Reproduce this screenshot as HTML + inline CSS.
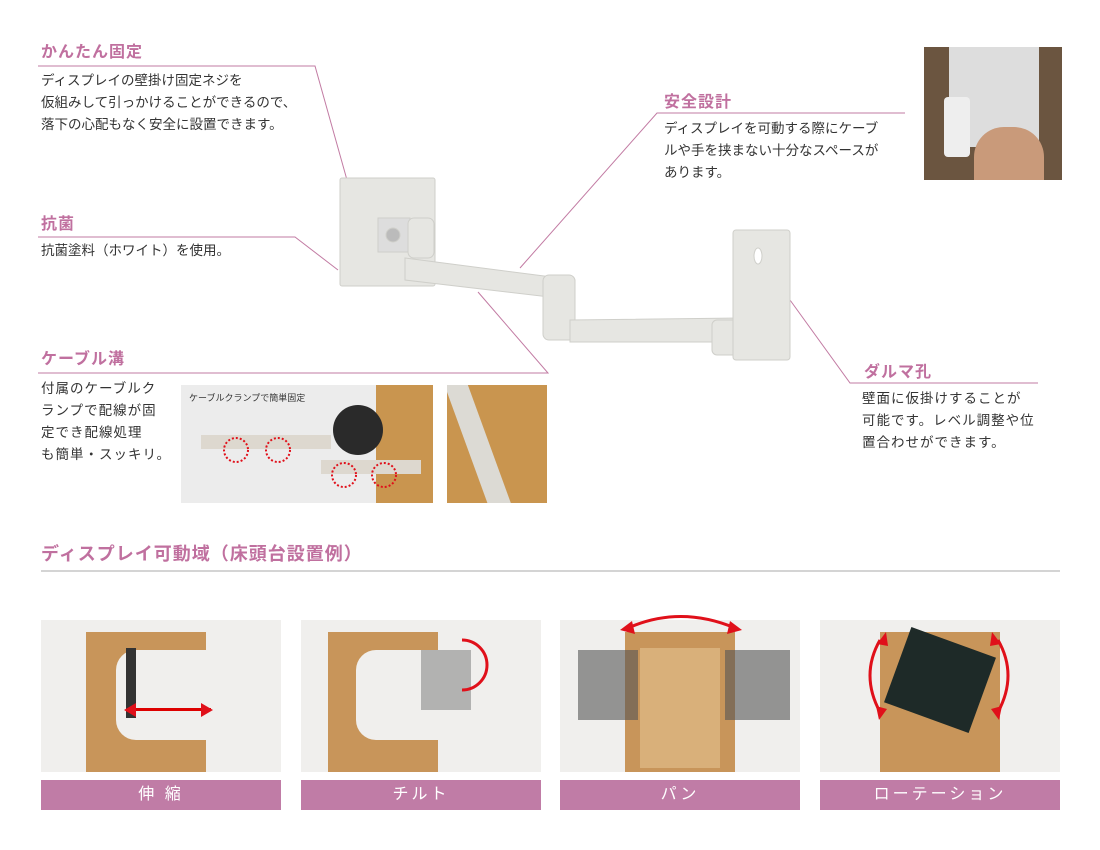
<!DOCTYPE html><html><head><meta charset="utf-8"><style>
body{margin:0;width:1100px;height:850px;background:#fff;position:relative;overflow:hidden;font-family:"Liberation Sans","Noto Sans CJK JP",sans-serif;color:#333}
.a{position:absolute}
.h{color:#c0709f;font-size:16px;font-weight:bold;letter-spacing:1px}
.t{font-size:13.5px;line-height:22px;color:#333}
.lab{position:absolute;top:780px;width:240px;height:30px;background:#c07ca6;color:#fff;font-size:16px;text-align:center;line-height:30px;letter-spacing:3px}
.ph{position:absolute;top:620px;width:240px;height:152px;background:#f0efed;overflow:hidden}
</style></head><body>
<div class="a h" style="left:41px;top:38px">かんたん固定</div>
<div class="a t" style="left:41px;top:70px">ディスプレイの壁掛け固定ネジを<br>仮組みして引っかけることができるので、<br>落下の心配もなく安全に設置できます。</div>
<div class="a h" style="left:41px;top:210px">抗菌</div>
<div class="a t" style="left:41px;top:240px">抗菌塗料（ホワイト）を使用。</div>
<div class="a h" style="left:41px;top:345px">ケーブル溝</div>
<div class="a t" style="left:41px;top:378px;letter-spacing:1px">付属のケーブルク<br>ランプで配線が固<br>定でき配線処理<br>も簡単・スッキリ。</div>
<div class="a" style="left:181px;top:385px;width:252px;height:118px;background:#ececec;overflow:hidden">
<div class="a" style="left:195px;top:0;width:57px;height:118px;background:#c9954f"></div>
<div class="a" style="left:8px;top:6px;font-size:9px;color:#333">ケーブルクランプで簡単固定</div>
<div class="a" style="left:20px;top:50px;width:130px;height:14px;background:#ddd8cf"></div>
<div class="a" style="left:140px;top:75px;width:100px;height:14px;background:#ddd8cf"></div>
<div class="a" style="left:152px;top:20px;width:50px;height:50px;border-radius:50%;background:#2a2a2a"></div>
</div>
<div class="a" style="left:447px;top:385px;width:100px;height:118px;background:#c9954f;overflow:hidden">
<div class="a" style="left:20px;top:-10px;width:22px;height:140px;background:#dcdad4;transform:rotate(-20deg)"></div>
</div>
<div class="a h" style="left:664px;top:88px">安全設計</div>
<div class="a t" style="left:664px;top:118px">ディスプレイを可動する際にケーブ<br>ルや手を挟まない十分なスペースが<br>あります。</div>
<div class="a" style="left:924px;top:47px;width:138px;height:133px;background:#6b5540;overflow:hidden">
<div class="a" style="left:25px;top:0;width:90px;height:100px;background:#ddd"></div>
<div class="a" style="left:50px;top:80px;width:70px;height:53px;background:#c99a7a;border-radius:30px 30px 0 0"></div>
<div class="a" style="left:20px;top:50px;width:26px;height:60px;background:#eee;border-radius:4px"></div>
</div>
<div class="a h" style="left:864px;top:358px">ダルマ孔</div>
<div class="a t" style="left:862px;top:388px;letter-spacing:1px">壁面に仮掛けすることが<br>可能です。レベル調整や位<br>置合わせができます。</div>
<div class="a" style="left:41px;top:540px;font-size:18px;color:#c0709f;font-weight:bold;letter-spacing:1px">ディスプレイ可動域（床頭台設置例）</div>
<div class="ph" style="left:41px"><div class="a" style="left:45px;top:12px;width:120px;height:140px;background:#c8955a"></div><div class="a" style="left:75px;top:30px;width:95px;height:90px;background:#f0efed;border-radius:20px 0 0 20px"></div><div class="a" style="left:85px;top:28px;width:10px;height:70px;background:#333"></div><div class="a" style="left:95px;top:88px;width:75px;height:3px;background:#d00"></div></div>
<div class="ph" style="left:301px"><div class="a" style="left:27px;top:12px;width:110px;height:140px;background:#c8955a"></div><div class="a" style="left:55px;top:30px;width:90px;height:90px;background:#f0efed;border-radius:20px 0 0 20px"></div><div class="a" style="left:120px;top:30px;width:50px;height:60px;background:#888;opacity:.6"></div></div>
<div class="ph" style="left:560px"><div class="a" style="left:65px;top:12px;width:110px;height:140px;background:#c8955a"></div><div class="a" style="left:80px;top:28px;width:80px;height:120px;background:#d9b07a"></div><div class="a" style="left:18px;top:30px;width:60px;height:70px;background:#555;opacity:.6"></div><div class="a" style="left:165px;top:30px;width:65px;height:70px;background:#555;opacity:.6"></div></div>
<div class="ph" style="left:820px"><div class="a" style="left:60px;top:12px;width:120px;height:140px;background:#c8955a"></div><div class="a" style="left:75px;top:20px;width:90px;height:80px;background:#1e2a28;transform:rotate(20deg)"></div></div>
<div class="lab" style="left:41px">伸 縮</div>
<div class="lab" style="left:301px">チルト</div>
<div class="lab" style="left:560px">パン</div>
<div class="lab" style="left:820px">ローテーション</div>
<svg class="a" style="left:0;top:0" width="1100" height="850">
<g stroke="#c27ba3" stroke-width="1" fill="none">
<polyline points="38,66 315,66 347,180"/>
<polyline points="38,237 295,237 338,270"/>
<polyline points="38,373 548,373 478,292"/>
<polyline points="905,113 657,113 520,268"/>
<polyline points="1038,383 850,383 790,300"/>
</g>
<line x1="41" y1="571" x2="1060" y2="571" stroke="#aaa"/>
<g fill="#e6e6e2" stroke="#cfcfca">
<rect x="340" y="178" width="95" height="108" rx="2"/>
<rect x="378" y="218" width="32" height="34" fill="#ddd"/>
<circle cx="393" cy="235" r="7" fill="#bbb"/>
<rect x="408" y="218" width="26" height="40" rx="6"/>
<polygon points="405,258 575,280 575,300 405,280"/>
<rect x="543" y="275" width="32" height="65" rx="6"/>
<polygon points="570,320 740,318 740,342 570,342"/>
<rect x="712" y="320" width="45" height="35" rx="5"/>
<rect x="733" y="230" width="57" height="130" rx="3"/>
<ellipse cx="758" cy="256" rx="4" ry="8" fill="#fff"/>
</g>
<g stroke="#e0101a" stroke-width="3" fill="none">
<path d="M462,640 A24,24 0 1 1 462,690"/>
<path d="M628,628 Q680,605 735,628"/>
<path d="M880,640 Q860,675 880,712"/>
<path d="M998,640 Q1018,675 998,712"/>
</g>
<g fill="#e0101a">
<polygon points="124,710 136,703 136,717"/><polygon points="213,710 201,703 201,717"/>
<polygon points="620,630 632,621 635,634"/><polygon points="742,630 730,621 727,634"/>
<polygon points="886,632 877,644 888,646"/><polygon points="879,720 876,706 887,709"/>
<polygon points="992,632 1001,644 990,646"/><polygon points="999,720 1002,706 991,709"/>
</g>
<g fill="none" stroke="#e0101a" stroke-width="2" stroke-dasharray="2,2">
<circle cx="236" cy="450" r="12"/><circle cx="278" cy="450" r="12"/><circle cx="344" cy="475" r="12"/><circle cx="384" cy="475" r="12"/>
</g>
</svg>
</body></html>
